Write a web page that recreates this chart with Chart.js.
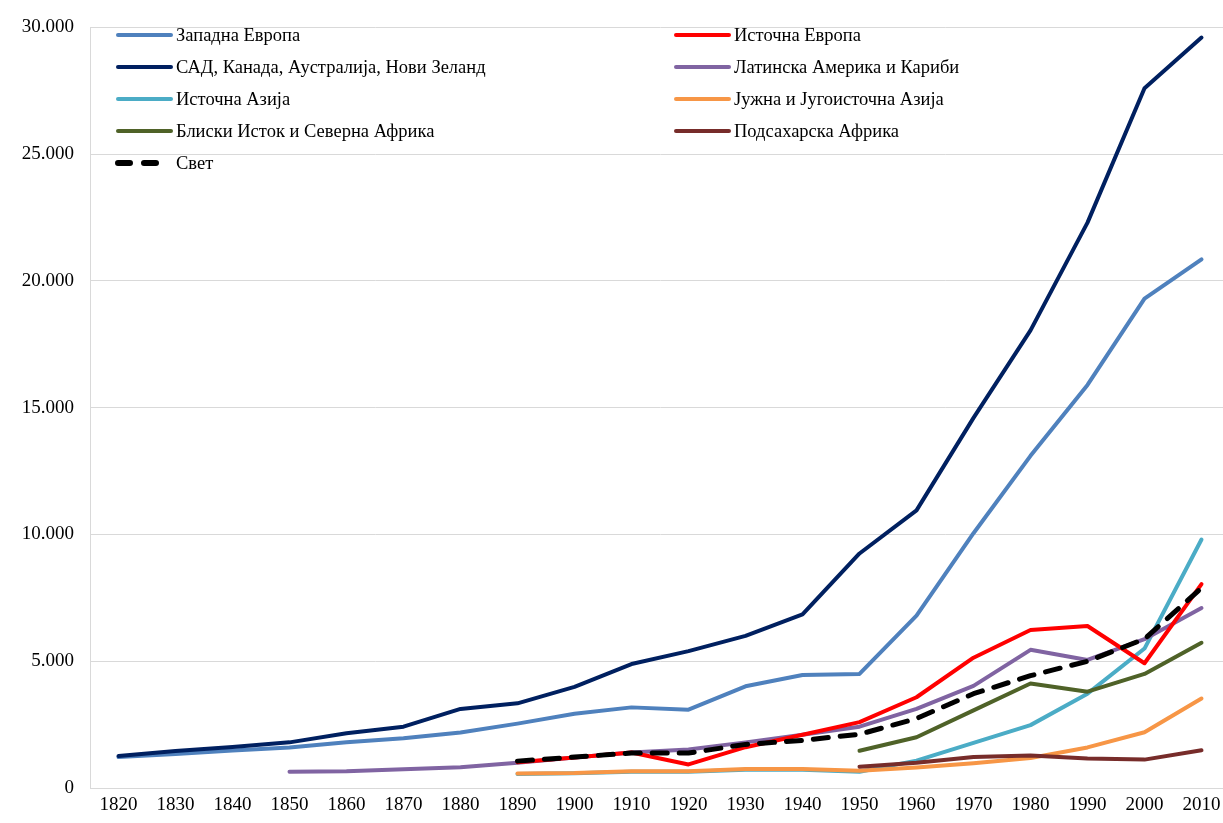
<!DOCTYPE html>
<html>
<head>
<meta charset="utf-8">
<script src="https://cdn.jsdelivr.net/npm/chart.js@4.4.1/dist/chart.umd.min.js"></script>
<style>
    html, body { margin: 0; padding: 0; background: #fff; overflow: hidden; }
    #wrap { position: relative; width: 1232px; height: 823px; }
    #legend { position: absolute; left: 0; top: 0; font-family: 'Liberation Serif', 'Times New Roman', serif; font-size: 18.5px; color: #000; }
    .item { position: absolute; display: flex; align-items: center; white-space: nowrap; height: 26px; }
    .item svg { margin-right: 2px; }
</style>
</head>
<body>
<div id="wrap">
    <canvas id="chart" width="1232" height="823"></canvas>
    <div id="legend"></div>
</div>
<script>
const years = ['1820', '1830', '1840', '1850', '1860', '1870', '1880', '1890', '1900', '1910',
    '1920', '1930', '1940', '1950', '1960', '1970', '1980', '1990', '2000', '2010'];

const westernEurope = [1220, 1340, 1480, 1600, 1800, 1960, 2190, 2540, 2930, 3180,
    3090, 4010, 4460, 4500, 6800, 10050, 13100, 15900, 19300, 20850];
const easternEurope = [null, null, null, null, null, null, null, 1020, 1200, 1400,
    930, 1610, 2100, 2600, 3580, 5140, 6230, 6390, 4920, 8040];
const usaGroup = [1260, 1460, 1620, 1800, 2160, 2420, 3120, 3340, 3990, 4890,
    5400, 6000, 6850, 9250, 10950, 14600, 18050, 22300, 27600, 29600];
const latinAmerica = [null, null, null, 640, 660, 740, 820, 1000, 1200, 1400,
    1520, 1800, 2100, 2420, 3120, 4030, 5450, 5050, 5870, 7100];
const eastAsia = [null, null, null, null, null, null, null, 550, 580, 640,
    640, 720, 720, 640, 1080, 1780, 2480, 3720, 5500, 9800];
const southAsia = [null, null, null, null, null, null, null, 570, 590, 660,
    660, 750, 750, 680, 810, 980, 1180, 1600, 2200, 3530];
const middleEast = [null, null, null, null, null, null, null, null, null, null,
    null, null, null, 1470, 2000, 3060, 4120, 3800, 4500, 5730];
const subSahara = [null, null, null, null, null, null, null, null, null, null,
    null, null, null, 840, 1000, 1220, 1280, 1160, 1120, 1490];
const world = [null, null, null, null, null, null, null, 1060, 1220, 1380,
    1380, 1720, 1880, 2120, 2740, 3720, 4430, 5000, 5880, 7890];

const yTicks = [0, 5000, 10000, 15000, 20000, 25000, 30000];

const series = [
    { label: 'Западна Европа', data: westernEurope, color: '#4F81BD', order: 8 },
    { label: 'Источна Европа', data: easternEurope, color: '#FF0000', order: 2 },
    { label: 'САД, Канада, Аустралија, Нови Зеланд', data: usaGroup, color: '#002060', order: 7 },
    { label: 'Латинска Америка и Кариби', data: latinAmerica, color: '#8064A2', order: 3 },
    { label: 'Источна Азија', data: eastAsia, color: '#4BACC6', order: 6 },
    { label: 'Јужна и Југоисточна Азија', data: southAsia, color: '#F79646', order: 5 },
    { label: 'Блиски Исток и Северна Африка', data: middleEast, color: '#4F6228', order: 4 },
    { label: 'Подсахарска Африка', data: subSahara, color: '#772C2A', order: 1 },
    { label: 'Свет', data: world, color: '#000000', order: 0, dash: true },
];

const fontFamily = "'Liberation Serif', 'Times New Roman', serif";

const chart = new Chart(document.getElementById('chart'), {
    type: 'line',
    data: {
        labels: years,
        datasets: series.map((s) => ({
            label: s.label,
            data: s.data,
            borderColor: s.color,
            backgroundColor: s.color,
            borderWidth: s.dash ? 5 : 4,
            borderDash: s.dash ? [15, 12] : [],
            borderCapStyle: 'round',
            borderJoinStyle: 'round',
            pointRadius: 0,
            tension: 0,
            order: s.order,
        })),
    },
    options: {
        responsive: false,
        animation: false,
        layout: { padding: { top: 19, right: 2, left: 0, bottom: 0 } },
        plugins: {
            legend: { display: false },
            tooltip: { enabled: false },
        },
        scales: {
            x: {
                offset: true,
                grid: { display: false, drawTicks: false },
                border: { color: '#d9d9d9', width: 1 },
                ticks: {
                    color: '#000',
                    font: { family: fontFamily, size: 19 },
                    padding: 6,
                    maxRotation: 0,
                    autoSkip: false,
                },
                afterFit: (scale) => { scale.height = 35; },
            },
            y: {
                min: 0,
                max: 30000,
                afterBuildTicks: (scale) => { scale.ticks = yTicks.map((v) => ({ value: v })); },
                grid: { color: '#d9d9d9', lineWidth: 1, drawTicks: false },
                border: { color: '#d9d9d9', width: 1 },
                ticks: {
                    color: '#000',
                    font: { family: fontFamily, size: 19 },
                    padding: 16,
                    callback: (value) => String(value).replace(/\B(?=(\d{3})+(?!\d))/g, '.'),
                },
                afterFit: (scale) => { scale.width = 90; },
            },
        },
    },
});

// two-column legend laid over the plot
const legend = document.getElementById('legend');
const columns = [118, 676];
const rowTop = 22;
const rowStep = 32;
chart.data.datasets.forEach((ds, i) => {
    const col = i % 2;
    const row = Math.floor(i / 2);
    const item = document.createElement('div');
    item.className = 'item';
    item.style.left = (columns[col] - 3) + 'px';
    item.style.top = (rowTop + row * rowStep) + 'px';
    const dashed = ds.borderDash.length > 0;
    const svg = `<svg width="59" height="10">
        <line x1="3" y1="5" x2="${dashed ? 44 : 56}" y2="5" stroke="${ds.borderColor}"
            stroke-width="${dashed ? 6 : 4}" stroke-linecap="round"
            ${dashed ? 'stroke-dasharray="12 14"' : ''}/></svg>`;
    item.innerHTML = svg + `<span>${ds.label}</span>`;
    legend.appendChild(item);
});
</script>
</body>
</html>
